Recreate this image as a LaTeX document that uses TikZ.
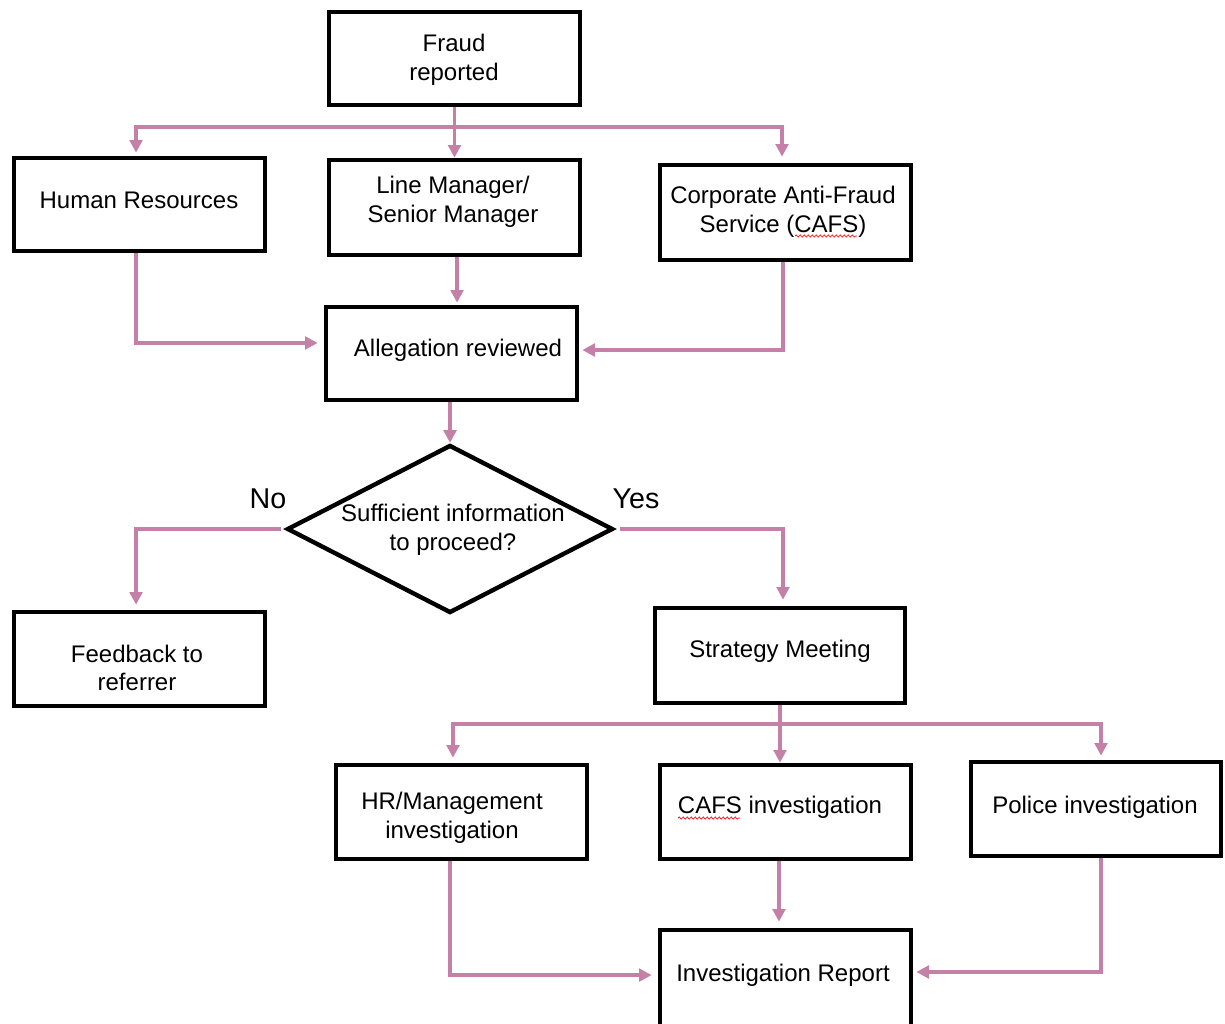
\documentclass[tikz,border=0pt]{standalone}
\usepackage{fontspec}
\setmainfont{Liberation Sans}
\usetikzlibrary{arrows.meta,shapes.geometric,decorations.pathmorphing}
\definecolor{pinkline}{RGB}{196,128,166}
\begin{document}
\begin{tikzpicture}[x=0.75pt,y=-0.75pt,
  box/.style={draw=black, line width=3.5pt, rectangle, inner sep=0pt, fill=white},
  dia/.style={draw=black, line width=3.3pt, diamond, inner sep=0pt, shape aspect=1},
  txt/.style={align=center, inner sep=0pt, font=\fontsize{18}{21.5}\selectfont},
  lbl/.style={inner sep=0pt, font=\fontsize{21.5}{24}\selectfont},
  conn/.style={draw=pinkline, line width=2.8pt},
  arr/.style={conn, -{Triangle[length=9.5pt,width=9.5pt]}},
  squig/.style={draw=red, line width=0.5pt, decorate, decoration={snake, amplitude=0.8pt, segment length=3pt}}]
\useasboundingbox (0,0) rectangle (1225,1024);
\fill[white] (0,0) rectangle (1225,1024);

% boxes
\node[box, minimum width=188.25pt, minimum height=69.75pt] (fr) at (454.5,58.5) {};
\node[box, minimum width=188.25pt, minimum height=69.75pt] (hr) at (139.5,204.5) {};
\node[box, minimum width=188.25pt, minimum height=71.25pt] (lm) at (454.5,207.5) {};
\node[box, minimum width=188.25pt, minimum height=71.25pt] (cafs) at (785.5,212.5) {};
\node[box, minimum width=188.25pt, minimum height=69.75pt] (alleg) at (451.5,353.5) {};
\node[dia, minimum width=244.5pt, minimum height=126pt] (dq) at (450,529) {};
\node[box, minimum width=188.25pt, minimum height=70.5pt] (fb) at (139.5,659) {};
\node[box, minimum width=187.5pt, minimum height=71.25pt] (strat) at (780,655.5) {};
\node[box, minimum width=188.25pt, minimum height=70.5pt] (hrm) at (461.5,812) {};
\node[box, minimum width=188.25pt, minimum height=70.5pt] (cafsinv) at (785.5,812) {};
\node[box, minimum width=187.5pt, minimum height=70.5pt] (police) at (1096,809) {};
\node[box, minimum width=188.25pt, minimum height=72pt] (report) at (785.5,978) {};

% texts
\node[txt] (tfr) at (454,60) {Fraud\\reported};
\node[txt] (thr) at (139,200) {Human Resources};
\node[txt] (tlm) at (453,202) {Line Manager/\\Senior Manager};
\node[txt] (tcafs) at (783,212) {Corporate Anti-Fraud\\Service (CAFS)};
\node[txt] (talleg) at (458,350) {Allegation reviewed};
\node[txt] (tdq) at (453,530) {Sufficient information\\to proceed?};
\node[txt] (tfb) at (137,668) {Feedback to\\referrer};
\node[txt] (tstrat) at (780,651) {Strategy Meeting};
\node[txt] (thrm) at (452,818) {HR/Management\\investigation};
\node[txt] (tcafsinv) at (780,807) {CAFS investigation};
\node[txt] (tpolice) at (1095,807) {Police investigation};
\node[txt] (treport) at (783,975) {Investigation Report};
\node[lbl] (tno) at (268,499) {No};
\node[lbl] (tyes) at (636,499) {Yes};

% spell-check squiggles
\draw[squig] (795,236) -- (857,236);
\draw[squig] (678,818) -- (740,818);

% connectors
\coordinate (s1) at (454.5,127);
\coordinate (s2) at (780,724);
\draw[arr] (fr.south) -- (lm.north);
\draw[arr, shorten >=2.25pt] (s1) -| ([xshift=-2.6pt]hr.north);
\draw[arr, shorten >=4.5pt] (s1) -| ([xshift=-2.6pt]cafs.north);
\draw[arr, shorten >=4.5pt] ([xshift=-2.6pt]hr.south) |- ([yshift=7.9pt]alleg.west);
\draw[arr, shorten >=1.5pt] ([xshift=1.9pt]lm.south) -- ([xshift=1.9pt]lm.south |- alleg.north);
\draw[arr, shorten >=2.25pt] ([xshift=-1.9pt]cafs.south) |- ([yshift=2.6pt]alleg.east);
\draw[arr] (alleg.south -| dq.north) -- (dq.north);
\draw[arr, shorten >=3.75pt] ([xshift=-3pt]dq.west) -| ([xshift=-2.6pt]fb.north);
\draw[arr, shorten >=4.5pt] ([xshift=3.75pt]dq.east) -| ([xshift=2.25pt]strat.north);
\draw[arr] (strat.south) -- (strat.south |- cafsinv.north);
\draw[arr, shorten >=3.75pt] (s2) -| ([xshift=-6.4pt]hrm.north);
\draw[arr, shorten >=3pt] (s2) -| ([xshift=3.75pt]police.north);
\draw[arr, shorten >=4.5pt] ([xshift=-8.6pt]hrm.south) |- ([yshift=2.2pt]report.west);
\draw[arr, shorten >=4.5pt] ([xshift=-4.9pt]cafsinv.south) -- ([xshift=-4.9pt]report.north);
\draw[arr, shorten >=2.25pt] ([xshift=3.75pt]police.south) |- ([yshift=4.5pt]report.east);
\end{tikzpicture}
\end{document}
